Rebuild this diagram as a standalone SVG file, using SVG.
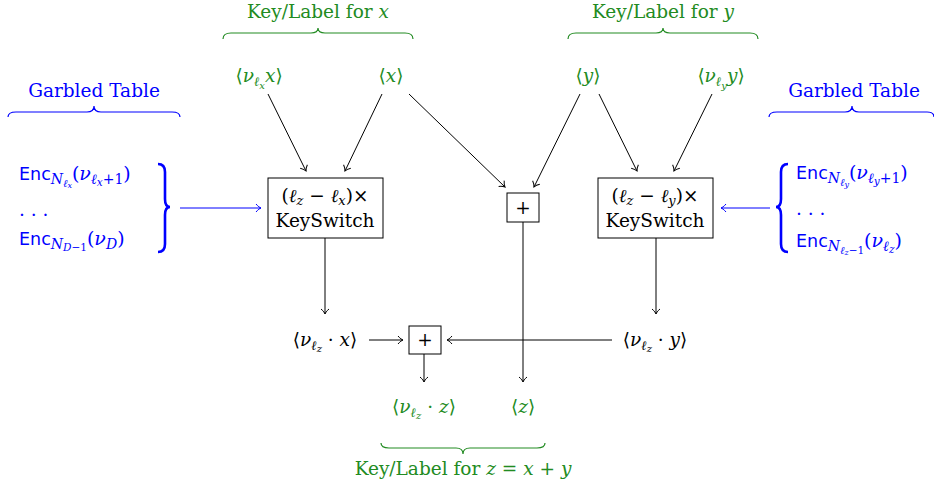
<svg xmlns="http://www.w3.org/2000/svg" width="934" height="492" viewBox="0 0 934 492" font-family="'DejaVu Serif', serif">
<defs>
<style>
.t{font-family:'DejaVu Serif',serif;font-size:18.5px}
.m{font-family:'DejaVu Serif',serif;font-size:18.5px}
.i{font-style:italic}
.sf{font-family:'DejaVu Sans',sans-serif;font-size:17.5px}
.g{fill:#228b22}
.b{fill:#0000ff}
.k{fill:#000}
.ln{stroke:#000;stroke-width:1;fill:none}
.bl{stroke:#0000ff;stroke-width:1;fill:none}
.brg{stroke:#228b22;stroke-width:1.2;fill:none}
.brb{stroke:#0000ff;stroke-width:1.2;fill:none}
.box{fill:#fff;stroke:#000;stroke-width:1}
.s{font-size:13px}
.ss{font-size:10px}
.e{font-size:19px}
.es{font-size:14px}
.ess{font-size:10.5px}
</style>
<marker id="ah" viewBox="-7 -5 8 10" markerWidth="8" markerHeight="10" refX="0" refY="0" orient="auto" markerUnits="userSpaceOnUse">
<path d="M-5,-4 C-3,-1.5 -1,-0.4 0,0 C-1,0.4 -3,1.5 -5,4" fill="none" stroke="#000" stroke-width="1"/>
</marker>
<marker id="ahb" viewBox="-7 -5 8 10" markerWidth="8" markerHeight="10" refX="0" refY="0" orient="auto" markerUnits="userSpaceOnUse">
<path d="M-5,-4 C-3,-1.5 -1,-0.4 0,0 C-1,0.4 -3,1.5 -5,4" fill="none" stroke="#0000ff" stroke-width="1"/>
</marker>
</defs>
<rect width="934" height="492" fill="#fff"/>

<g id="connectors">
<line class="ln" x1="268" y1="94" x2="306" y2="171" marker-end="url(#ah)"/>
<line class="ln" x1="382" y1="94" x2="345" y2="171" marker-end="url(#ah)"/>
<line class="ln" x1="409" y1="94" x2="505" y2="187" marker-end="url(#ah)"/>
<line class="ln" x1="580" y1="94" x2="534" y2="187" marker-end="url(#ah)"/>
<line class="ln" x1="599" y1="94" x2="637" y2="171" marker-end="url(#ah)"/>
<line class="ln" x1="712" y1="94" x2="674" y2="171" marker-end="url(#ah)"/>
<line class="ln" x1="325" y1="238" x2="325" y2="314" marker-end="url(#ah)"/>
<line class="ln" x1="656" y1="238" x2="656" y2="314" marker-end="url(#ah)"/>
<line class="ln" x1="369" y1="340" x2="403" y2="340" marker-end="url(#ah)"/>
<line class="ln" x1="612" y1="340" x2="447" y2="340" marker-end="url(#ah)"/>
<line class="ln" x1="523" y1="222" x2="523" y2="382" marker-end="url(#ah)"/>
<line class="ln" x1="424" y1="354" x2="424" y2="382" marker-end="url(#ah)"/>
<line class="bl" x1="180" y1="208" x2="261" y2="208" marker-end="url(#ahb)"/>
<line class="bl" x1="770" y1="208" x2="721" y2="208" marker-end="url(#ahb)"/>
</g>

<g id="label-x-brace">
<text class="t g" x="318" y="18" text-anchor="middle">Key/Label for <tspan class="i">x</tspan></text>
<path class="brg" d="M223,39 Q223,33 231,33 L311,33 Q318,33 318,28 Q318,33 325,33 L405,33 Q413,33 413,39"/>
</g>
<g id="label-y-brace">
<text class="t g" x="663" y="18" text-anchor="middle">Key/Label for <tspan class="i">y</tspan></text>
<path class="brg" d="M568,39 Q568,33 576,33 L656,33 Q663,33 663,28 Q663,33 670,33 L750,33 Q758,33 758,39"/>
</g>
<g id="label-z-brace">
<path class="brg" d="M381,443 Q381,448 389,448 L456,448 Q463,448 463,454 Q463,448 470,448 L537,448 Q545,448 545,443"/>
<text class="t g" x="463" y="475" text-anchor="middle">Key/Label for <tspan class="i">z</tspan> = <tspan class="i">x</tspan> + <tspan class="i">y</tspan></text>
</g>

<g id="nu-lx-x">
<text class="m g" x="259" y="82" text-anchor="middle">⟨<tspan class="i">ν</tspan><tspan class="i s" dy="4">ℓ</tspan><tspan class="i ss" dy="3">x</tspan><tspan class="i" dy="-7">x</tspan>⟩</text>
</g>
<g id="x-label"><text class="m g" x="391" y="82" text-anchor="middle">⟨<tspan class="i">x</tspan>⟩</text></g>
<g id="y-label"><text class="m g" x="588" y="82" text-anchor="middle">⟨<tspan class="i">y</tspan>⟩</text></g>
<g id="nu-ly-y">
<text class="m g" x="721" y="82" text-anchor="middle">⟨<tspan class="i">ν</tspan><tspan class="i s" dy="4">ℓ</tspan><tspan class="i ss" dy="3">y</tspan><tspan class="i" dy="-7">y</tspan>⟩</text>
</g>

<g id="garbled-left">
<text class="t b" x="94" y="97" text-anchor="middle">Garbled Table</text>
<path class="brb" d="M8,117 Q8,112 16,112 L87,112 Q94,112 94,106 Q94,112 101,112 L172,112 Q180,112 180,117"/>
</g>
<g id="garbled-right">
<text class="t b" x="854" y="97" text-anchor="middle">Garbled Table</text>
<path class="brb" d="M769,117 Q769,112 777,112 L845,112 Q852,112 852,106 Q852,112 859,112 L927,112 Q934,112 934,117"/>
</g>

<g id="enc-left">
<text class="b" x="19" y="180"><tspan class="sf">Enc</tspan><tspan class="m i es" dy="4">N</tspan><tspan class="m i ess" dy="3">ℓ</tspan><tspan class="m i" style="font-size:8px" dy="1">x</tspan><tspan class="m e" dy="-8">(</tspan><tspan class="m i e">ν</tspan><tspan class="m i es" dy="4">ℓ</tspan><tspan class="m i ess" dy="2">x</tspan><tspan class="m es" dy="-2">+1</tspan><tspan class="m e" dy="-4">)</tspan></text>
<text class="b m" x="19" y="216">. . .</text>
<text class="b" x="19" y="245"><tspan class="sf">Enc</tspan><tspan class="m i es" dy="4">N</tspan><tspan class="m ess" dy="2"><tspan class="i">D</tspan>−1</tspan><tspan class="m e" dy="-6">(</tspan><tspan class="m i e">ν</tspan><tspan class="m i es" dy="4">D</tspan><tspan class="m e" dy="-4">)</tspan></text>
<path d="M158,164 Q165,164 165,172 L165,199 Q165,207 170,207 Q165,207 165,215 L165,244 Q165,252 158,252" fill="none" stroke="#0000ff" stroke-width="2.6"/>
</g>
<g id="enc-right">
<path d="M788,164 Q781,164 781,172 L781,199 Q781,207 776,207 Q781,207 781,215 L781,244 Q781,252 788,252" fill="none" stroke="#0000ff" stroke-width="2.6"/>
<text class="b" x="796" y="179"><tspan class="sf">Enc</tspan><tspan class="m i es" dy="4">N</tspan><tspan class="m i ess" dy="3">ℓ</tspan><tspan class="m i" style="font-size:8px" dy="1">y</tspan><tspan class="m e" dy="-8">(</tspan><tspan class="m i e">ν</tspan><tspan class="m i es" dy="4">ℓ</tspan><tspan class="m i ess" dy="2">y</tspan><tspan class="m es" dy="-2">+1</tspan><tspan class="m e" dy="-4">)</tspan></text>
<text class="b m" x="796" y="215">. . .</text>
<text class="b" x="796" y="247"><tspan class="sf">Enc</tspan><tspan class="m i es" dy="4">N</tspan><tspan class="m i ess" dy="3">ℓ</tspan><tspan class="m i" style="font-size:8px" dy="1">z</tspan><tspan class="m ess" dy="-1">−1</tspan><tspan class="m e" dy="-7">(</tspan><tspan class="m i e">ν</tspan><tspan class="m i es" dy="4">ℓ</tspan><tspan class="m i ess" dy="2">z</tspan><tspan class="m e" dy="-6">)</tspan></text>
</g>

<g id="keyswitch-left">
<rect class="box" x="268" y="178" width="115" height="60"/>
<text class="m k" x="325" y="202" text-anchor="middle">(<tspan class="i">ℓ</tspan><tspan class="i s" dy="3">z</tspan><tspan dy="-3"> − </tspan><tspan class="i">ℓ</tspan><tspan class="i s" dy="3">x</tspan><tspan dy="-3">)×</tspan></text>
<text class="t k" x="325" y="227" text-anchor="middle">KeySwitch</text>
</g>
<g id="keyswitch-right">
<rect class="box" x="598" y="178" width="115" height="60"/>
<text class="m k" x="655" y="202" text-anchor="middle">(<tspan class="i">ℓ</tspan><tspan class="i s" dy="3">z</tspan><tspan dy="-3"> − </tspan><tspan class="i">ℓ</tspan><tspan class="i s" dy="3">y</tspan><tspan dy="-3">)×</tspan></text>
<text class="t k" x="655" y="227" text-anchor="middle">KeySwitch</text>
</g>
<g id="plus-top">
<rect class="box" x="507" y="193" width="32" height="29"/>
<text class="m k" x="523" y="214" text-anchor="middle">+</text>
</g>
<g id="plus-bottom">
<rect class="box" x="409" y="326" width="32" height="28"/>
<text class="m k" x="425" y="346" text-anchor="middle">+</text>
</g>

<g id="nu-lz-x"><text class="m k" x="325" y="346" text-anchor="middle">⟨<tspan class="i">ν</tspan><tspan class="i s" dy="4">ℓ</tspan><tspan class="i ss" dy="2">z</tspan><tspan dy="-6"> · </tspan><tspan class="i">x</tspan>⟩</text></g>
<g id="nu-lz-y"><text class="m k" x="655" y="346" text-anchor="middle">⟨<tspan class="i">ν</tspan><tspan class="i s" dy="4">ℓ</tspan><tspan class="i ss" dy="2">z</tspan><tspan dy="-6"> · </tspan><tspan class="i">y</tspan>⟩</text></g>
<g id="nu-lz-z"><text class="m g" x="424" y="413" text-anchor="middle">⟨<tspan class="i">ν</tspan><tspan class="i s" dy="4">ℓ</tspan><tspan class="i ss" dy="2">z</tspan><tspan dy="-6"> · </tspan><tspan class="i">z</tspan>⟩</text></g>
<g id="z-label"><text class="m g" x="523" y="413" text-anchor="middle">⟨<tspan class="i">z</tspan>⟩</text></g>
</svg>
